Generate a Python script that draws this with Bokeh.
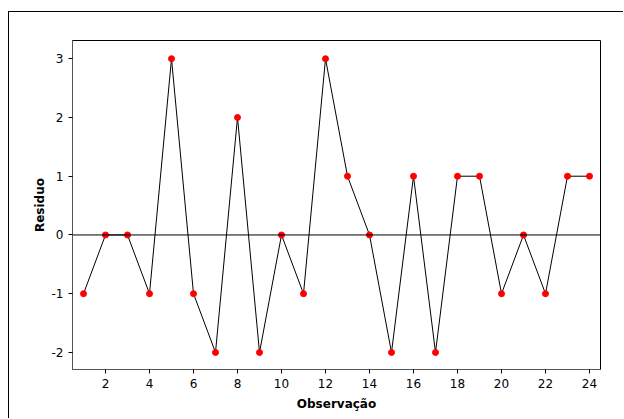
from bokeh.plotting import figure
from bokeh.models import Range1d, FixedTicker, Span
from bokeh.embed import file_html
from bokeh.resources import INLINE

observacao = list(range(1, 25))
residuo = [-1, 0, 0, -1, 3, -1, -2, 2, -2, 0, -1, 3, 1, 0, -2, 1, -2, 1, 1, -1, 0, -1, 1, 1]
x_ticks = [2, 4, 6, 8, 10, 12, 14, 16, 18, 20, 22, 24]
y_ticks = [-2, -1, 0, 1, 2, 3]
y_tick_labels = ["-2", "-1", "0", "1", "2", "3"]

FONT = "DejaVu Sans"

p = figure(width=615, height=407, output_backend="svg", toolbar_location=None,
           x_range=Range1d(0.5, 24.5), y_range=Range1d(-2.29, 3.31),
           min_border_left=63, min_border_top=28, min_border_right=24, min_border_bottom=50)
p.margin = (11, 0, 0, 8)
p.styles = {"border-top": "1px solid black", "border-left": "1px solid black"}

p.grid.visible = False
p.outline_line_color = "black"
p.outline_line_width = 1

p.add_layout(Span(location=0, dimension="width", line_color="black", line_width=1))
p.line(observacao, residuo, line_color="black", line_width=1)
p.scatter(observacao, residuo, size=6, fill_color="red", line_color="red")

for ax in (p.xaxis[0], p.yaxis[0]):
    ax.major_label_text_font = FONT
    ax.major_label_text_font_size = "12px"
    ax.major_label_text_color = "black"
    ax.axis_label_text_font = FONT
    ax.axis_label_text_font_size = "12px"
    ax.axis_label_text_font_style = "bold"
    ax.axis_label_text_color = "black"
    ax.axis_line_color = "#555555"
    ax.major_tick_line_color = "black"
    ax.major_tick_out = 4
    ax.major_tick_in = 0
    ax.minor_tick_line_color = None

p.xaxis.ticker = FixedTicker(ticks=x_ticks)
p.yaxis.ticker = FixedTicker(ticks=y_ticks)
p.yaxis.major_label_overrides = {t: s for t, s in zip(y_ticks, y_tick_labels)}
p.xaxis.axis_label = "Observação"
p.yaxis.axis_label = "Residuo"
p.xaxis.axis_label_standoff = 6
p.yaxis.axis_label_standoff = 2

open("out.html", "w").write(file_html(p, INLINE))
